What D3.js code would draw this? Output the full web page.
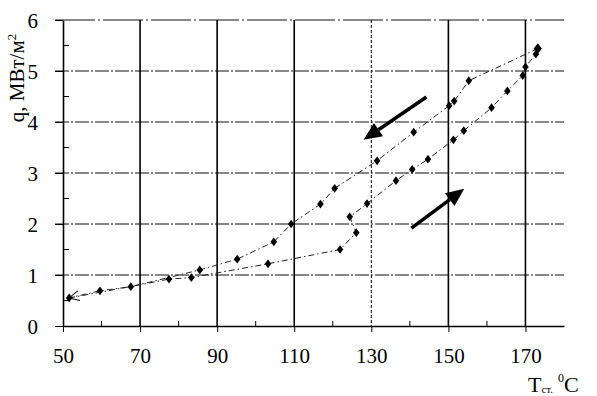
<!DOCTYPE html>
<html>
<head>
<meta charset="utf-8">
<script src="https://cdn.jsdelivr.net/npm/d3@7"></script>
<style>
  body { margin: 0; background: #fff; }
  svg { font-family: "Liberation Serif", "Times New Roman", serif; }
</style>
</head>
<body>
<div id="chart"></div>
<script>

// heating branch (lower curve), wall temperature and heat flux
const heatT = [51.6, 68.0, 77.5, 83.3, 103.2, 121.9, 126.1, 124.4, 128.9, 136.4, 140.6, 144.7, 151.3, 154.0, 161.2, 165.3, 169.3, 170.0, 172.7, 173.2];
const heatQ = [0.55, 0.78, 0.92, 0.95, 1.22, 1.50, 1.83, 2.14, 2.40, 2.85, 3.07, 3.27, 3.65, 3.83, 4.28, 4.61, 4.91, 5.08, 5.33, 5.44];

// cooling branch (upper curve), drawn from right to left
const coolT = [173.2, 155.3, 151.5, 150.2, 141.0, 131.5, 120.5, 116.8, 109.2, 104.7, 95.2, 85.5, 67.6, 59.6, 51.6];
const coolQ = [5.44, 4.81, 4.41, 4.32, 3.80, 3.24, 2.70, 2.39, 2.00, 1.65, 1.31, 1.10, 0.77, 0.69, 0.55];

// direction arrows: [tailT, tailQ, tipT, tipQ]
const arrowCool = [144.3, 4.49, 128.0, 3.65];
const arrowHeat = [140.4, 1.92, 154.1, 2.69];

const xTicks = [50, 70, 90, 110, 130, 150, 170];
const xMinor = [60, 80, 100, 120, 140, 160];
const yTicks = [0, 1, 2, 3, 4, 5, 6];
const yMinor = [0.5, 1.5, 2.5, 3.5, 4.5, 5.5];

const margin = {top: 20, right: 33, bottom: 70, left: 63};
const width = 597 - margin.left - margin.right;
const height = 396 - margin.top - margin.bottom;

const svg = d3.select("#chart").append("svg")
  .attr("width", 597)
  .attr("height", 396)
  .append("g")
  .attr("transform", "translate(" + margin.left + "," + margin.top + ")");

const x = d3.scaleLinear().domain([50, 180]).range([0, width]);
const y = d3.scaleLinear().domain([0, 6]).range([height, 0]);

// horizontal grid (dash-dot)
svg.selectAll(".hgrid")
  .data(yTicks.filter(d => d > 0))
  .enter().append("line")
  .attr("class", "hgrid")
  .attr("x1", -8).attr("x2", width)
  .attr("y1", d => y(d)).attr("y2", d => y(d))
  .attr("stroke", "#111")
  .attr("stroke-width", 1)
  .attr("stroke-dasharray", d => d === 6 ? "40,3,2,3" : "14,2,2,2");

// vertical grid
svg.selectAll(".vgrid")
  .data(xTicks.filter(d => d > 50))
  .enter().append("line")
  .attr("class", "vgrid")
  .attr("x1", d => x(d)).attr("x2", d => x(d))
  .attr("y1", 0).attr("y2", height)
  .attr("stroke", "#000")
  .attr("stroke-width", d => d === 130 ? 1 : 1.6)
  .attr("stroke-dasharray", d => d === 130 ? "3,2" : null);

// axes
const xAxis = d3.axisBottom(x).tickValues(xTicks).tickSize(6).tickSizeOuter(0).tickFormat(d3.format("d"));
const yAxis = d3.axisLeft(y).tickValues(yTicks).tickSize(8).tickSizeOuter(0).tickPadding(17).tickFormat(d3.format("d"));

const gx = svg.append("g")
  .attr("transform", "translate(0," + height + ")")
  .call(xAxis);
gx.select(".domain").attr("stroke", "#000").attr("stroke-width", 1.6);
gx.selectAll("text")
  .attr("y", 37).attr("dy", 0)
  .attr("font-size", 21)
  .attr("font-family", "Liberation Serif")
  .attr("fill", "#000");

const gy = svg.append("g").call(yAxis);
gy.select(".domain").attr("stroke", "#000").attr("stroke-width", 1.6);
gy.selectAll("text")
  .attr("dy", "0.35em")
  .attr("font-size", 21)
  .attr("font-family", "Liberation Serif")
  .attr("fill", "#000");

// minor ticks pointing inward
svg.selectAll(".xminor")
  .data(xMinor)
  .enter().append("line")
  .attr("x1", d => x(d)).attr("x2", d => x(d))
  .attr("y1", height).attr("y2", height - 5)
  .attr("stroke", "#000");

svg.selectAll(".yminor")
  .data(yMinor)
  .enter().append("line")
  .attr("x1", 0).attr("x2", 6)
  .attr("y1", d => y(d)).attr("y2", d => y(d))
  .attr("stroke", "#000");

// curves
const heatData = heatT.map((t, i) => ({t: t, q: heatQ[i]}));
const coolData = coolT.map((t, i) => ({t: t, q: coolQ[i]}));

const line = d3.line()
  .x(d => x(d.t))
  .y(d => y(d.q));

svg.append("defs").append("marker")
  .attr("id", "open-head")
  .attr("viewBox", "0 0 12 12")
  .attr("refX", 11).attr("refY", 6)
  .attr("markerWidth", 12).attr("markerHeight", 12)
  .attr("markerUnits", "userSpaceOnUse")
  .attr("orient", "auto")
  .append("path")
  .attr("d", "M1,1 L11,6 L1,11")
  .attr("fill", "none")
  .attr("stroke", "#000")
  .attr("stroke-width", 1);

[heatData, coolData].forEach((data, k) => {
  svg.append("path")
    .datum(data)
    .attr("d", line)
    .attr("fill", "none")
    .attr("stroke", "#222")
    .attr("stroke-width", 1)
    .attr("stroke-dasharray", "6,3,1.5,3")
    .attr("marker-end", k === 1 ? "url(#open-head)" : null);
});

const dot = d3.symbol().type(d3.symbolDiamond).size(22);

svg.selectAll(".pt")
  .data(heatData.slice(2).concat(coolData.slice(1)))
  .enter().append("path")
  .attr("class", "pt")
  .attr("d", dot)
  .attr("transform", d => "translate(" + x(d.t) + "," + y(d.q) + ") scale(1.3,1)")
  .attr("fill", "#000");

svg.append("path")
  .attr("d", d3.symbol().type(d3.symbolDiamond).size(34))
  .attr("transform", "translate(" + x(coolT[0]) + "," + y(coolQ[0]) + ") scale(1.3,1)")
  .attr("fill", "#000");

// thick direction arrows
function drawArrow(a) {
  const x1 = x(a[0]), y1 = y(a[1]), x2 = x(a[2]), y2 = y(a[3]);
  const ang = Math.atan2(y2 - y1, x2 - x1);
  const len = 18, half = 8;
  const bx = x2 - len * Math.cos(ang), by = y2 - len * Math.sin(ang);
  svg.append("line")
    .attr("x1", x1).attr("y1", y1)
    .attr("x2", bx).attr("y2", by)
    .attr("stroke", "#000")
    .attr("stroke-width", 3.5);
  svg.append("path")
    .attr("d", "M" + x2 + "," + y2 +
      "L" + (bx + half * Math.sin(ang)) + "," + (by - half * Math.cos(ang)) +
      "L" + (bx - half * Math.sin(ang)) + "," + (by + half * Math.cos(ang)) + "Z")
    .attr("fill", "#000");
}
drawArrow(arrowCool);
drawArrow(arrowHeat);

// axis titles
const yTitle = svg.append("text")
  .attr("transform", "translate(" + (24 - margin.left) + ",58) rotate(-90)")
  .attr("text-anchor", "middle")
  .attr("font-size", 21)
  .attr("fill", "#000");
yTitle.append("tspan").text("q, МВт/м");
yTitle.append("tspan").attr("dy", -8).attr("font-size", 13).text("2");

const xTitle = svg.append("text")
  .attr("x", 528 - margin.left)
  .attr("y", 392 - margin.top)
  .attr("font-size", 22)
  .attr("fill", "#000");
xTitle.append("tspan").text("Т");
xTitle.append("tspan").attr("dy", 1).attr("font-size", 11).text("ст.");
xTitle.append("tspan").attr("dy", -11).attr("dx", 5).attr("font-size", 12).text("0");
xTitle.append("tspan").attr("dy", 10).text("С");

</script>
</body>
</html>
